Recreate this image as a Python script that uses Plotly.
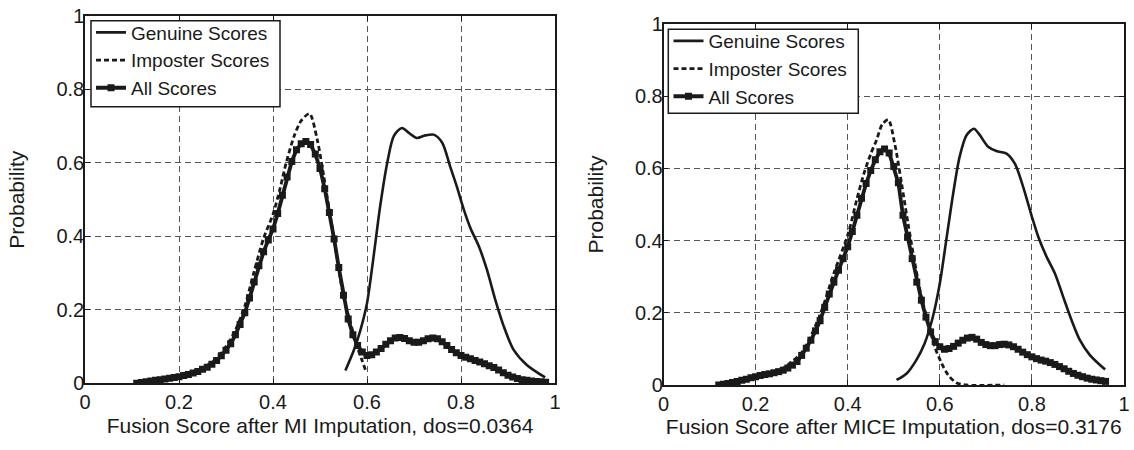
import plotly.graph_objects as go

# ---------------- Left panel (MI imputation) ----------------
mi_all_x = [round(0.11 + 0.01 * i, 2) for i in range(88)]
mi_all_y = [0.000, 0.002, 0.004, 0.006, 0.008, 0.010, 0.012, 0.014, 0.016, 0.018,
            0.021, 0.024, 0.028, 0.032, 0.038, 0.044, 0.052, 0.062, 0.075, 0.090,
            0.108, 0.132, 0.160, 0.192, 0.232, 0.276, 0.320, 0.358, 0.390, 0.420,
            0.462, 0.512, 0.562, 0.604, 0.636, 0.652, 0.658, 0.650, 0.624, 0.585,
            0.530, 0.465, 0.393, 0.315, 0.240, 0.175, 0.132, 0.103, 0.085, 0.076,
            0.078, 0.085, 0.095, 0.106, 0.116, 0.123, 0.125, 0.122, 0.116, 0.112,
            0.112, 0.116, 0.121, 0.123, 0.121, 0.113, 0.103, 0.092, 0.083, 0.076,
            0.071, 0.067, 0.062, 0.058, 0.053, 0.048, 0.043, 0.036, 0.029, 0.022,
            0.017, 0.013, 0.010, 0.008, 0.006, 0.005, 0.004, 0.003]

mi_imp_x = [0.11, 0.15, 0.20, 0.25, 0.28, 0.30, 0.32, 0.34, 0.36, 0.38, 0.40, 0.415,
            0.428, 0.445, 0.46, 0.4776, 0.494, 0.508, 0.522, 0.536, 0.55, 0.565,
            0.579, 0.589, 0.598]
mi_imp_y = [0.000, 0.008, 0.020, 0.042, 0.068, 0.100, 0.145, 0.210, 0.305, 0.395, 0.460,
            0.530, 0.600, 0.673, 0.715, 0.734, 0.664, 0.564, 0.455, 0.345, 0.236, 0.164,
            0.100, 0.064, 0.032]

mi_gen_x = [0.554, 0.572, 0.586, 0.600, 0.614, 0.628, 0.643, 0.657, 0.674, 0.689, 0.706,
            0.724, 0.742, 0.760, 0.777, 0.791, 0.806, 0.820, 0.838, 0.855, 0.873, 0.891,
            0.912, 0.940, 0.979]
mi_gen_y = [0.035, 0.090, 0.145, 0.218, 0.345, 0.482, 0.600, 0.673, 0.695, 0.682, 0.668,
            0.675, 0.677, 0.655, 0.590, 0.536, 0.473, 0.423, 0.373, 0.310, 0.227, 0.155,
            0.091, 0.050, 0.016]

# ---------------- Right panel (MICE imputation) ----------------
mice_all_x = [round(0.12 + 0.01 * i, 2) for i in range(85)]
mice_all_y = [0.000, 0.002, 0.004, 0.007, 0.010, 0.013, 0.016, 0.020, 0.023, 0.026,
              0.029, 0.031, 0.034, 0.037, 0.041, 0.047, 0.055, 0.065, 0.082, 0.102,
              0.124, 0.150, 0.178, 0.215, 0.252, 0.285, 0.318, 0.350, 0.383, 0.425,
              0.470, 0.517, 0.558, 0.594, 0.624, 0.646, 0.654, 0.643, 0.605, 0.560,
              0.470, 0.410, 0.350, 0.285, 0.235, 0.188, 0.147, 0.120, 0.106, 0.099,
              0.101, 0.107, 0.116, 0.124, 0.130, 0.132, 0.127, 0.118, 0.112, 0.109,
              0.109, 0.112, 0.113, 0.111, 0.106, 0.099, 0.091, 0.084, 0.078, 0.073,
              0.069, 0.066, 0.062, 0.057, 0.051, 0.045, 0.038, 0.032, 0.027, 0.023,
              0.019, 0.016, 0.014, 0.012, 0.010]

mice_imp_x = [0.12, 0.20, 0.25, 0.30, 0.34, 0.37, 0.40, 0.42, 0.435, 0.45, 0.463, 0.475,
              0.488, 0.502, 0.517, 0.531, 0.546, 0.56, 0.575, 0.589, 0.604, 0.618, 0.636,
              0.658, 0.74]
mice_imp_y = [0.000, 0.026, 0.040, 0.090, 0.195, 0.310, 0.415, 0.515, 0.585, 0.640, 0.680,
              0.722, 0.735, 0.669, 0.558, 0.447, 0.337, 0.244, 0.171, 0.106, 0.060, 0.028,
              0.006, 0.000, 0.000]

mice_gen_x = [0.506, 0.528, 0.549, 0.567, 0.585, 0.600, 0.614, 0.629, 0.643, 0.658, 0.674,
              0.687, 0.705, 0.723, 0.745, 0.763, 0.781, 0.800, 0.814, 0.832, 0.850, 0.868,
              0.886, 0.904, 0.926, 0.959]
mice_gen_y = [0.014, 0.032, 0.069, 0.115, 0.189, 0.281, 0.401, 0.530, 0.632, 0.692, 0.710,
              0.692, 0.660, 0.648, 0.641, 0.613, 0.549, 0.466, 0.410, 0.355, 0.309, 0.244,
              0.180, 0.125, 0.083, 0.043]

tick_vals = [0, 0.2, 0.4, 0.6, 0.8, 1]
tick_text = ["0", "0.2", "0.4", "0.6", "0.8", "1"]
series_names = ["Genuine Scores", "Imposter Scores", "All Scores"]
x_titles = ["Fusion Score after MI Imputation, dos=0.0364",
            "Fusion Score after MICE Imputation, dos=0.3176"]
y_title = "Probability"

FONT = "Liberation Sans, Arial, sans-serif"
INK = "#1a1a1a"
TICK_SIZE = 20
TITLE_SIZE = 21
LEGEND_SIZE = 19

fig = go.Figure()

panels = [
    ("x", "y", "legend", mi_gen_x, mi_gen_y, mi_imp_x, mi_imp_y, mi_all_x, mi_all_y),
    ("x2", "y2", "legend2", mice_gen_x, mice_gen_y, mice_imp_x, mice_imp_y, mice_all_x, mice_all_y),
]
for xa, ya, lg, gx, gy, ix, iy, ax, ay in panels:
    fig.add_trace(go.Scatter(x=gx, y=gy, mode="lines", name=series_names[0], xaxis=xa, yaxis=ya,
                             legend=lg, line=dict(color=INK, width=2.6, shape="spline", smoothing=0.8)))
    fig.add_trace(go.Scatter(x=ix, y=iy, mode="lines", name=series_names[1], xaxis=xa, yaxis=ya,
                             legend=lg, line=dict(color=INK, width=2.8, dash="5px,3px",
                                                  shape="spline", smoothing=0.8)))
    fig.add_trace(go.Scatter(x=ax, y=ay, mode="lines+markers", name=series_names[2], xaxis=xa, yaxis=ya,
                             legend=lg, line=dict(color=INK, width=3.8),
                             marker=dict(symbol="square", size=7, color=INK)))

def xaxis(domain, anchor, title):
    return dict(domain=domain, anchor=anchor, range=[0, 1], tickvals=tick_vals, ticktext=tick_text,
                automargin=False,
                showline=True, linecolor=INK, linewidth=1.5, mirror="ticks", ticks="inside",
                ticklen=5, tickcolor=INK, showgrid=True, gridcolor="#555555", gridwidth=1,
                griddash="6px,4px", zeroline=False,
                title=dict(text=title, font=dict(size=TITLE_SIZE, family=FONT, color=INK), standoff=6),
                tickfont=dict(size=TICK_SIZE, family=FONT, color=INK))

def yaxis(domain, anchor):
    return dict(domain=domain, anchor=anchor, range=[0, 1], tickvals=tick_vals, ticktext=tick_text,
                automargin=False, ticklabelstandoff=-5,
                showline=True, linecolor=INK, linewidth=1.5, mirror="ticks", ticks="inside",
                ticklen=5, tickcolor=INK, showgrid=True, gridcolor="#555555", gridwidth=1,
                griddash="6px,4px", zeroline=False,
                title=dict(text=y_title, font=dict(size=TITLE_SIZE, family=FONT, color=INK), standoff=26),
                tickfont=dict(size=TICK_SIZE, family=FONT, color=INK))

W, H = 1134, 450
# legend frames (pixel boxes) drawn as shapes so the entries sit like the original
legend_boxes = [(91, 20.7, 280, 106.7), (668.3, 29.3, 858.3, 113.3)]
shapes = [dict(type="rect", xref="paper", yref="paper", layer="above",
               x0=x0 / W, x1=x1 / W, y0=1 - y1 / H, y1=1 - y0 / H,
               line=dict(color=INK, width=1.5), fillcolor="white")
          for x0, y0, x1, y1 in legend_boxes]

fig.update_layout(
    width=W, height=H, margin=dict(l=0, r=0, t=0, b=0, autoexpand=False),
    paper_bgcolor="white", plot_bgcolor="white",
    font=dict(family=FONT, size=TICK_SIZE, color=INK),
    xaxis=xaxis([85 / W, 555 / W], "y", x_titles[0]),
    yaxis=yaxis([(H - 383.3) / H, (H - 16) / H], "x"),
    xaxis2=xaxis([663.5 / W, 1124 / W], "y2", x_titles[1]),
    yaxis2=yaxis([(H - 385) / H, (H - 24) / H], "x2"),
    shapes=shapes,
    legend=dict(x=91 / W, y=1 - 13.5 / H, xanchor="left", yanchor="top", bgcolor="rgba(0,0,0,0)",
                borderwidth=0, font=dict(size=LEGEND_SIZE, family=FONT, color=INK),
                tracegroupgap=0),
    legend2=dict(x=668.5 / W, y=1 - 22 / H, xanchor="left", yanchor="top", bgcolor="rgba(0,0,0,0)",
                 borderwidth=0, font=dict(size=LEGEND_SIZE, family=FONT, color=INK),
                 tracegroupgap=0),
    showlegend=True,
)

fig.write_html("out.html", config={"displayModeBar": False},
               post_script="document.body.style.margin='0';document.body.style.overflow='hidden';")
